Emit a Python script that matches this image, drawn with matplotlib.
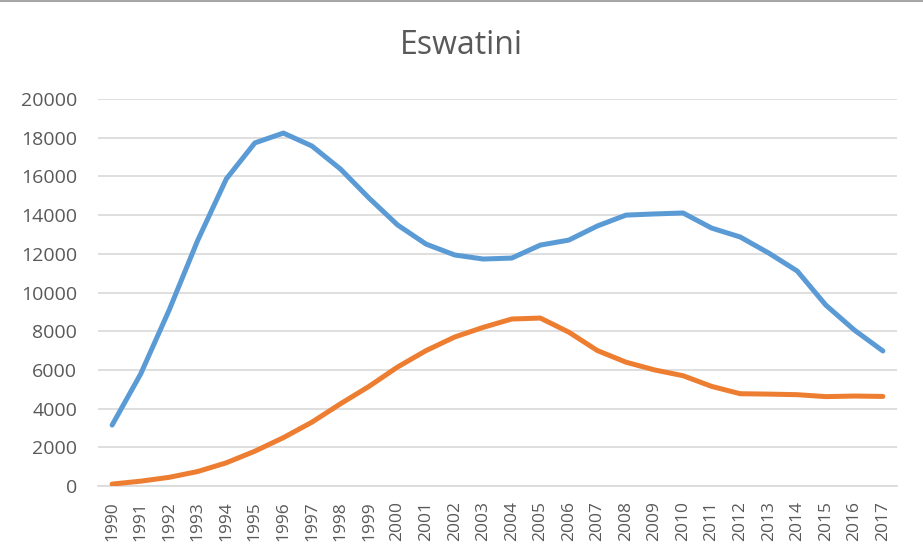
import matplotlib

matplotlib.use("Agg")
import matplotlib.pyplot as plt

years = list(range(1990, 2018))
blue_vals = [3150, 5790, 9100, 12700, 15870, 17730, 18240, 17570, 16380, 14880,
             13490, 12500, 11940, 11730, 11780, 12450, 12710, 13440, 14000, 14060,
             14110, 13330, 12870, 12040, 11110, 9350, 8060, 6980]
orange_vals = [100, 250, 450, 750, 1200, 1800, 2500, 3300, 4250, 5150,
               6150, 7000, 7700, 8200, 8630, 8680, 7950, 7000, 6400, 6000,
               5700, 5150, 4770, 4750, 4720, 4620, 4650, 4630]
yticks = list(range(0, 20001, 2000))

plt.rcParams["font.family"] = ["Open Sans", "DejaVu Sans"]

fig = plt.figure(figsize=(9.23, 5.54), dpi=100)
ax = fig.add_axes([0.106, 0.1227, 0.866, 0.6986])

x = range(len(years))
ax.plot(x, blue_vals, color="#5B9BD5", lw=3.6, solid_capstyle="round", solid_joinstyle="round", zorder=3)
ax.plot(x, orange_vals, color="#ED7D31", lw=3.6, solid_capstyle="round", solid_joinstyle="round", zorder=3)

ax.set_xlim(-0.5, len(years) - 0.5)
ax.set_ylim(0, 20000)
ax.set_yticks(yticks)
ax.set_yticklabels([str(v) for v in yticks], fontsize=14, color="#595959")
ax.set_xticks(list(x))
ax.set_xticklabels([str(y) for y in years], rotation=90, fontsize=12.5, color="#595959")
ax.tick_params(axis="y", length=0, pad=15)
ax.tick_params(axis="x", length=0, pad=11)
ax.grid(axis="y", color="#D9D9D9", lw=1.2)
ax.set_axisbelow(True)
for s in ["top", "right", "left"]:
    ax.spines[s].set_visible(False)
ax.spines["bottom"].set_color("#D9D9D9")
ax.spines["bottom"].set_linewidth(1.2)

fig.text(0.5, 0.918, "Eswatini", ha="center", va="center", fontsize=23, color="#595959")
# chart border remnant at the top edge
fig.add_artist(plt.Line2D([0, 1], [0.998, 0.998], transform=fig.transFigure, color="#A6A6A6", lw=1.5))

fig.savefig("out.png", dpi=100)
